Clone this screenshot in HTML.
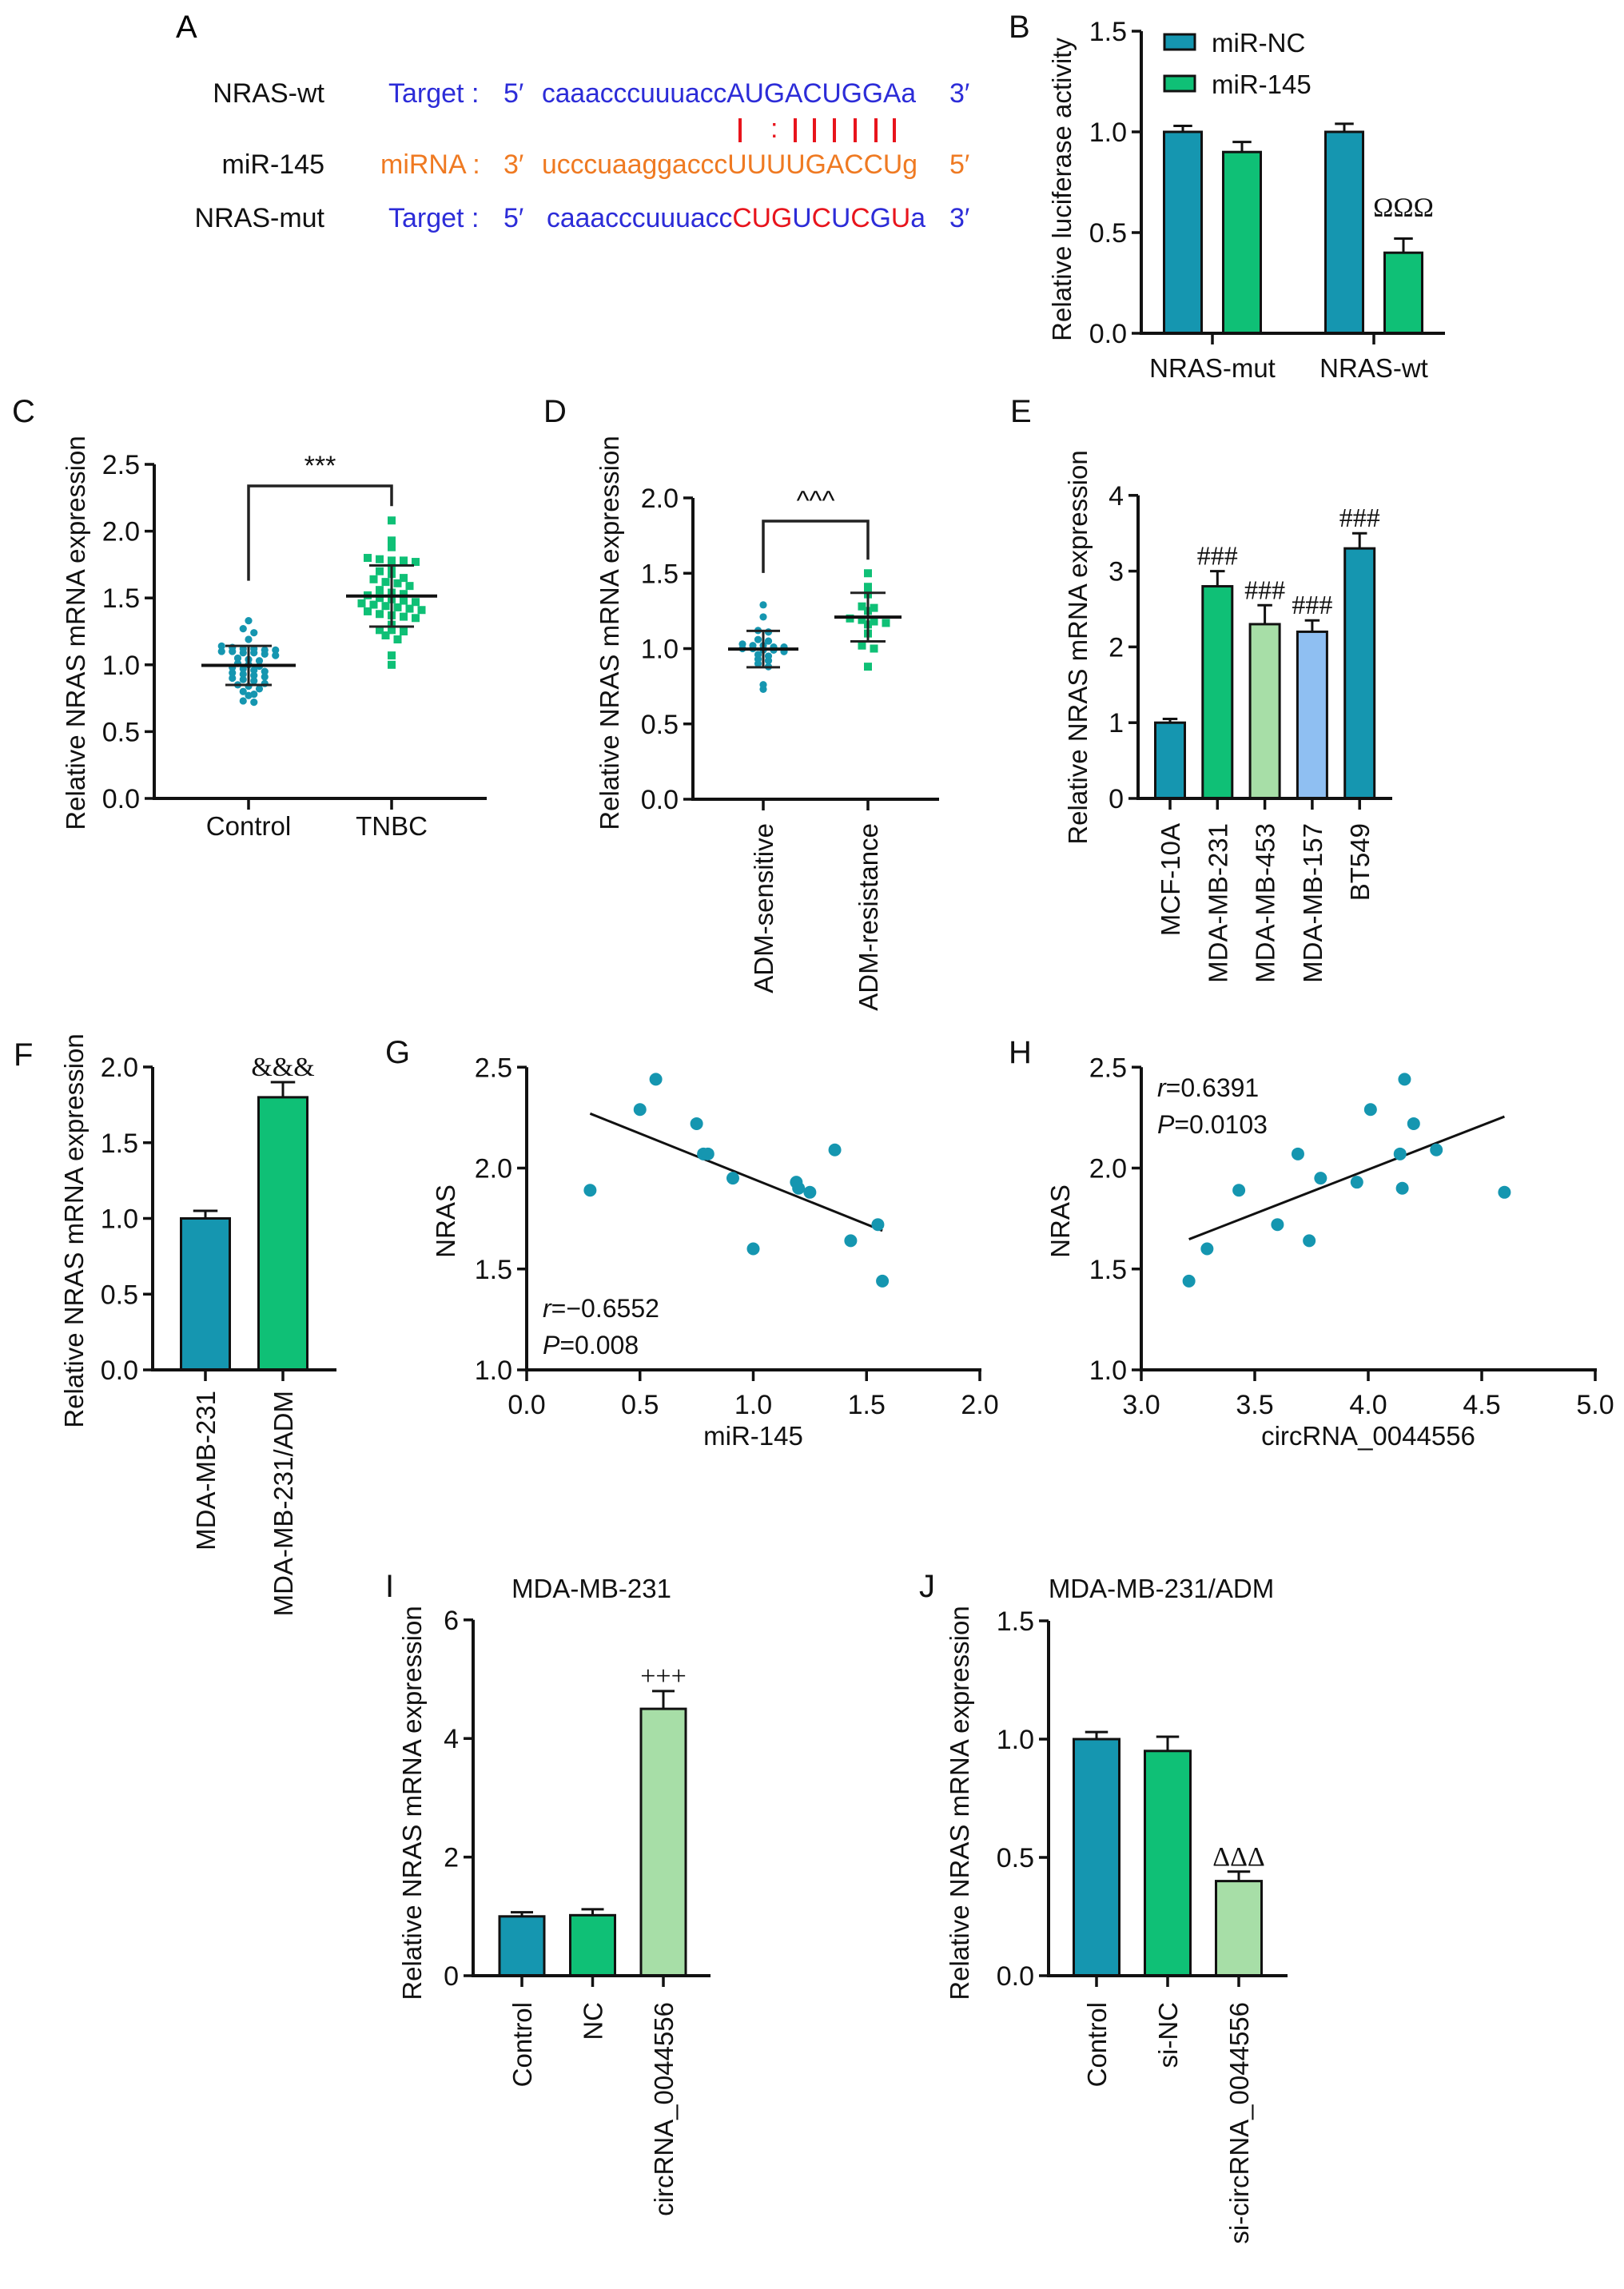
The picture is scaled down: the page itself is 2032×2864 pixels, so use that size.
<!DOCTYPE html>
<html><head><meta charset="utf-8"><title>NRAS figure</title>
<style>
html,body{margin:0;padding:0;background:#fff;}
svg{display:block;font-family:"Liberation Sans",Arial,sans-serif;}
</style></head>
<body>
<svg id="fig" xmlns="http://www.w3.org/2000/svg" width="2032" height="2864" viewBox="0 0 2032 2864">
<rect x="0" y="0" width="2032" height="2864" fill="#fff"/>
<!-- Panel A -->
<g font-size="34">
  <text x="220" y="47" font-size="40">A</text>
  <text x="406" y="128" text-anchor="end" fill="#111">NRAS-wt</text>
  <text x="486" y="128" fill="#2c2cd8">Target :</text>
  <text x="630" y="128" fill="#2c2cd8">5′</text>
  <text x="678" y="128" fill="#2c2cd8" textLength="468" lengthAdjust="spacingAndGlyphs">caaacccuuuaccAUGACUGGAa</text>
  <text x="1188" y="128" fill="#2c2cd8">3′</text>
  <g stroke="#e8141c" stroke-width="4">
    <line x1="926" y1="148" x2="926" y2="178"/>
    <line x1="995" y1="148" x2="995" y2="178"/>
    <line x1="1019" y1="148" x2="1019" y2="178"/>
    <line x1="1044" y1="148" x2="1044" y2="178"/>
    <line x1="1070" y1="148" x2="1070" y2="178"/>
    <line x1="1096" y1="148" x2="1096" y2="178"/>
    <line x1="1119" y1="148" x2="1119" y2="178"/>
  </g>
  <text x="964" y="172" fill="#e8141c">:</text>
  <text x="406" y="217" text-anchor="end" fill="#111">miR-145</text>
  <text x="476" y="217" fill="#ef7a22">miRNA :</text>
  <text x="630" y="217" fill="#ef7a22">3′</text>
  <text x="678" y="217" fill="#ef7a22" textLength="470" lengthAdjust="spacingAndGlyphs">ucccuaaggacccUUUUGACCUg</text>
  <text x="1188" y="217" fill="#ef7a22">5′</text>
  <text x="406" y="284" text-anchor="end" fill="#111">NRAS-mut</text>
  <text x="486" y="284" fill="#2c2cd8">Target :</text>
  <text x="630" y="284" fill="#2c2cd8">5′</text>
  <text x="684" y="284" fill="#2c2cd8" textLength="474" lengthAdjust="spacingAndGlyphs">caaacccuuuacc<tspan fill="#e8141c">CUG</tspan>U<tspan fill="#e8141c">C</tspan>U<tspan fill="#e8141c">C</tspan>G<tspan fill="#e8141c">U</tspan>a</text>
  <text x="1188" y="284" fill="#2c2cd8">3′</text>
</g>
</svg>
<script>
// ---------- DATA ----------
const bCategories = ["NRAS-mut", "NRAS-wt"];
const bSeries = ["miR-NC", "miR-145"];
const bValuesNC = [1.0, 1.0];
const bErrorsNC = [0.03, 0.04];
const bValues145 = [0.9, 0.4];
const bErrors145 = [0.05, 0.07];
const bTicks = [0.0, 0.5, 1.0, 1.5];

const cCategories = ["Control", "TNBC"];
const cControl = [1.33,1.27,1.24,1.19,1.14,1.13,1.12,1.12,1.11,1.11,1.10,1.10,1.09,1.09,1.08,1.07,1.05,1.04,1.03,1.01,1.00,0.99,0.98,0.97,0.96,0.95,0.94,0.93,0.92,0.91,0.90,0.89,0.88,0.86,0.85,0.84,0.82,0.80,0.78,0.77,0.73,0.72];
const cTNBC = [2.08,1.93,1.88,1.80,1.79,1.78,1.78,1.77,1.72,1.70,1.68,1.65,1.64,1.62,1.61,1.59,1.56,1.54,1.53,1.52,1.50,1.49,1.48,1.47,1.46,1.45,1.44,1.43,1.42,1.41,1.40,1.38,1.37,1.36,1.35,1.30,1.26,1.26,1.25,1.22,1.19,1.07,1.00];
const cTicks = [0.0, 0.5, 1.0, 1.5, 2.0, 2.5];

const dCategories = ["ADM-sensitive", "ADM-resistance"];
const dSensitive = [1.29,1.21,1.12,1.11,1.06,1.05,1.03,1.02,1.02,1.01,1.01,1.00,1.00,0.99,0.99,0.98,0.96,0.95,0.93,0.92,0.90,0.88,0.76,0.73];
const dResistance = [1.50,1.41,1.37,1.36,1.28,1.27,1.25,1.20,1.19,1.18,1.17,1.16,1.10,1.02,1.00,0.88];
const dTicks = [0.0, 0.5, 1.0, 1.5, 2.0];

const eCategories = ["MCF-10A", "MDA-MB-231", "MDA-MB-453", "MDA-MB-157", "BT549"];
const eValues = [1.0, 2.8, 2.3, 2.2, 3.3];
const eErrors = [0.05, 0.2, 0.25, 0.15, 0.2];
const eTicks = [0, 1, 2, 3, 4];

const fCategories = ["MDA-MB-231", "MDA-MB-231/ADM"];
const fValues = [1.0, 1.8];
const fErrors = [0.05, 0.1];
const fTicks = [0.0, 0.5, 1.0, 1.5, 2.0];

const gX = [0.28,0.50,0.57,0.75,0.78,0.80,0.91,1.00,1.19,1.20,1.25,1.36,1.43,1.55,1.57];
const gY = [1.89,2.29,2.44,2.22,2.07,2.07,1.95,1.60,1.93,1.90,1.88,2.09,1.64,1.72,1.44];
const gXTicks = [0.0, 0.5, 1.0, 1.5, 2.0];
const gYTicks = [1.0, 1.5, 2.0, 2.5];

const hX = [3.21,3.29,3.43,3.60,3.69,3.74,3.79,3.95,4.01,4.14,4.15,4.16,4.20,4.30,4.60];
const hY = [1.44,1.60,1.89,1.72,2.07,1.64,1.95,1.93,2.29,2.07,1.90,2.44,2.22,2.09,1.88];
const hXTicks = [3.0, 3.5, 4.0, 4.5, 5.0];
const hYTicks = [1.0, 1.5, 2.0, 2.5];

const iCategories = ["Control", "NC", "circRNA_0044556"];
const iValues = [1.0, 1.02, 4.5];
const iErrors = [0.07, 0.1, 0.3];
const iTicks = [0, 2, 4, 6];

const jCategories = ["Control", "si-NC", "si-circRNA_0044556"];
const jValues = [1.0, 0.95, 0.40];
const jErrors = [0.03, 0.06, 0.04];
const jTicks = [0.0, 0.5, 1.0, 1.5];

// ---------- DRAWING ----------
const NS = "http://www.w3.org/2000/svg";
const svg = document.getElementById('fig');
const TEAL = "#1596b0", GREEN = "#0fc076", LGREEN = "#a7dea7", LBLUE = "#8fbff2", INK = "#111";
const TICKF = 34, CATF = 33, TITF = 33;

function mk(tag, attrs, parent) {
  const e = document.createElementNS(NS, tag);
  for (const k in attrs) e.setAttribute(k, attrs[k]);
  (parent || svg).appendChild(e);
  return e;
}
function txt(str, attrs, parent) {
  const t = mk('text', attrs, parent);
  t.textContent = str;
  return t;
}
function fmt(v, d) { return v.toFixed(d); }

function yAxis(g, ax, y0, ppu, ticks, dec, name) {
  const top = y0 - ppu * (ticks[ticks.length - 1] - ticks[0]);
  const l = mk('line', {x1: ax, y1: y0 + 1.5, x2: ax, y2: top, stroke: INK, 'stroke-width': 4}, g);
  
  
  ticks.forEach(t => {
    const y = y0 - ppu * (t - ticks[0]);
    const tk = mk('line', {x1: ax - 12, y1: y, x2: ax, y2: y, stroke: INK, 'stroke-width': 3.5}, g);
    
    
    const lb = txt(fmt(t, dec), {x: ax - 18, y: y + 12, 'text-anchor': 'end', 'font-size': TICKF, fill: INK}, g);
    
    
  });
}
function xAxisLine(g, ax, y0, xEnd, name) {
  const l = mk('line', {x1: ax - 2, y1: y0, x2: xEnd, y2: y0, stroke: INK, 'stroke-width': 4}, g);
  
  
}
function yTitle(g, x, yc, str, name) {
  const t = txt(str, {x: 0, y: 0, 'text-anchor': 'middle', 'font-size': TITF, fill: INK, transform: `translate(${x},${yc}) rotate(-90)`}, g);
  
  
}
function panelLabel(str, x, y) {
  const t = txt(str, {x: x, y: y, 'font-size': 40, fill: INK});
  
  
}
function xTick(g, x, y0, name) {
  const tk = mk('line', {x1: x, y1: y0, x2: x, y2: y0 + 14, stroke: INK, 'stroke-width': 3.5}, g);
  
  
}
function rotCat(g, x, yTop, str, name) {
  const t = txt(str, {x: 0, y: 0, 'text-anchor': 'end', 'font-size': CATF, fill: INK, transform: `translate(${x + 12},${yTop}) rotate(-90)`}, g);
  
  
}
function bar(g, cx, w, y0, ppu, v, err, color, name) {
  const top = y0 - ppu * v;
  const ebTop = top - ppu * err;
  const el = mk('line', {x1: cx, y1: top, x2: cx, y2: ebTop, stroke: INK, 'stroke-width': 3}, g);
  
  
  const cap = mk('line', {x1: cx - w / 4, y1: ebTop, x2: cx + w / 4, y2: ebTop, stroke: INK, 'stroke-width': 3}, g);
  
  
  const r = mk('rect', {x: cx - w / 2, y: top, width: w, height: y0 - top, fill: color, stroke: INK, 'stroke-width': 3}, g);
  
  
  return ebTop;
}
function sigMark(g, cx, y, str, name) {
  const t = txt(str, {x: cx, y: y, 'text-anchor': 'middle', 'font-size': 34, fill: INK, 'font-family': '"Liberation Serif",serif'}, g);
  
  
}
function mean(a) { return a.reduce((s, v) => s + v, 0) / a.length; }
function sd(a) { const m = mean(a); return Math.sqrt(a.reduce((s, v) => s + (v - m) * (v - m), 0) / (a.length - 1)); }

// ---- Panel B ----
{
  const g = mk('g', {});
  
  
  panelLabel('B', 1262, 47);
  const ax = 1428, y0 = 417, ppu = 252;
  const groupX = i => 1517 + i * 202;
  const bw = 47, off = 37;
  bCategories.forEach((c, i) => {
    const cx = groupX(i);
    bar(g, cx - off, bw, y0, ppu, bValuesNC[i], bErrorsNC[i], TEAL, 'bar-mirnc-' + c.toLowerCase());
    const t = bar(g, cx + off, bw, y0, ppu, bValues145[i], bErrors145[i], GREEN, 'bar-mir145-' + c.toLowerCase());
    if (i === 1) sigMark(g, cx + off, t - 28, 'ΩΩΩ', 'significance-omega');
    xTick(g, cx, y0, 'b');
    const lb = txt(c, {x: cx, y: 472, 'text-anchor': 'middle', 'font-size': CATF, fill: INK}, g);
    
    
  });
  xAxisLine(g, ax, y0, 1808, 'b');
  yAxis(g, ax, y0, ppu, bTicks, 1, 'b');
  yTitle(g, 1340, 237, 'Relative luciferase activity', 'b');
  const cols = [TEAL, GREEN];
  bSeries.forEach((s, i) => {
    const sw = mk('rect', {x: 1457, y: 43 + i * 52, width: 38, height: 19, fill: cols[i], stroke: INK, 'stroke-width': 3}, g);
    
    
    const lt = txt(s, {x: 1516, y: 65 + i * 52, 'font-size': 33, fill: INK}, g);
    
    
  });
}

// ---- dot plots (C, D) ----
function beeswarm(g, vals, cx, y0, ppu, shape, color, sz, spacing, rowH, name) {
  const rows = {};
  vals.forEach(v => { const k = Math.round(v * ppu / rowH); (rows[k] = rows[k] || []).push(v); });
  Object.keys(rows).forEach(k => {
    const r = rows[k];
    r.forEach((v, j) => {
      const x = cx + (j - (r.length - 1) / 2) * spacing;
      const y = y0 - ppu * v;
      let p;
      if (shape === 'circle') p = mk('circle', {cx: x, cy: y, r: sz, fill: color}, g);
      else p = mk('rect', {x: x - sz, y: y - sz, width: 2 * sz, height: 2 * sz, fill: color}, g);
      
      
    });
  });
}
function meanSD(g, vals, cx, y0, ppu, halfMean, halfCap, name) {
  const m = mean(vals), s = sd(vals);
  const ym = y0 - ppu * m, yh = y0 - ppu * (m + s), yl = y0 - ppu * (m - s);
  const a = mk('line', {x1: cx, y1: yh, x2: cx, y2: yl, stroke: '#222', 'stroke-width': 3}, g);
  
  
  [yh, yl].forEach(y => {
    const c = mk('line', {x1: cx - halfCap, y1: y, x2: cx + halfCap, y2: y, stroke: '#222', 'stroke-width': 3}, g);
    
    
  });
  const ml = mk('line', {x1: cx - halfMean, y1: ym, x2: cx + halfMean, y2: ym, stroke: '#111', 'stroke-width': 4}, g);
  
  
}
function bracket(g, x1, x2, yTop, yL, yR, str, name) {
  const p = mk('path', {d: `M${x1},${yL} V${yTop} H${x2} V${yR}`, fill: 'none', stroke: '#222', 'stroke-width': 3.5}, g);
  
  
  const t = txt(str, {x: (x1 + x2) / 2, y: yTop - 14, 'text-anchor': 'middle', 'font-size': 34, fill: INK}, g);
  
  
}
{
  const g = mk('g', {});
  
  
  panelLabel('C', 15, 528);
  const ax = 193, y0 = 999, ppu = 167.2;
  const cxs = [311, 490];
  beeswarm(g, cControl, cxs[0], y0, ppu, 'circle', TEAL, 4.6, 13.5, 7, 'c-control');
  beeswarm(g, cTNBC, cxs[1], y0, ppu, 'rect', GREEN, 5, 15, 10, 'c-tnbc');
  meanSD(g, cControl, cxs[0], y0, ppu, 59, 29, 'c-control');
  meanSD(g, cTNBC, cxs[1], y0, ppu, 57, 28, 'c-tnbc');
  const top = y0 - ppu * Math.max(...cTNBC);
  bracket(g, cxs[0], cxs[1], 608, y0 - ppu * Math.max(...cControl) - 50, top - 18, '***', 'c');
  xAxisLine(g, ax, y0, 609, 'c');
  yAxis(g, ax, y0, ppu, cTicks, 1, 'c');
  cCategories.forEach((c, i) => {
    xTick(g, cxs[i], y0, 'c');
    const lb = txt(c, {x: cxs[i], y: 1045, 'text-anchor': 'middle', 'font-size': CATF, fill: INK}, g);
    
    
  });
  yTitle(g, 106, 792, 'Relative NRAS mRNA expression', 'c');
}
{
  const g = mk('g', {});
  
  
  panelLabel('D', 680, 528);
  const ax = 867, y0 = 1000, ppu = 188.5;
  const cxs = [955, 1086];
  beeswarm(g, dSensitive, cxs[0], y0, ppu, 'circle', TEAL, 4.6, 13, 6, 'd-sensitive');
  beeswarm(g, dResistance, cxs[1], y0, ppu, 'rect', GREEN, 5, 15, 9, 'd-resistance');
  meanSD(g, dSensitive, cxs[0], y0, ppu, 44, 21, 'd-sensitive');
  meanSD(g, dResistance, cxs[1], y0, ppu, 42, 22, 'd-resistance');
  bracket(g, cxs[0], cxs[1], 652, y0 - ppu * Math.max(...dSensitive) - 40, y0 - ppu * Math.max(...dResistance) - 17, '^^^', 'd');
  xAxisLine(g, ax, y0, 1175, 'd');
  yAxis(g, ax, y0, ppu, dTicks, 1, 'd');
  dCategories.forEach((c, i) => {
    xTick(g, cxs[i], y0, 'd');
    rotCat(g, cxs[i], 1030, c, 'd');
  });
  yTitle(g, 774, 792, 'Relative NRAS mRNA expression', 'd');
}

// ---- simple bar charts (E, F, I, J) ----
function barChart(o) {
  const g = mk('g', {});
  
  
  o.cats.forEach((c, i) => {
    const cx = o.x0 + i * o.step;
    const t = bar(g, cx, o.bw, o.y0, o.ppu, o.vals[i], o.errs[i], o.colors[i], 'bar-' + c.toLowerCase().replace(/[^a-z0-9]+/g, '-'));
    if (o.sig && o.sig[i]) sigMark(g, cx, t - 8, o.sig[i], 'significance-' + o.name + '-' + i);
    xTick(g, cx, o.y0, o.name);
    rotCat(g, cx, o.catTop, c, o.name);
  });
  xAxisLine(g, o.ax, o.y0, o.xEnd, o.name);
  yAxis(g, o.ax, o.y0, o.ppu, o.ticks, o.dec, o.name);
  yTitle(g, o.titleX, o.titleY, 'Relative NRAS mRNA expression', o.name);
  return g;
}
panelLabel('E', 1264, 528);
barChart({name: 'panel-e-cell-lines', cats: eCategories, vals: eValues, errs: eErrors, colors: [TEAL, GREEN, LGREEN, LBLUE, TEAL],
  sig: ['', '###', '###', '###', '###'], x0: 1464, step: 59.3, bw: 37, y0: 999, ppu: 94.8, ax: 1424, xEnd: 1742,
  ticks: eTicks, dec: 0, catTop: 1030, titleX: 1360, titleY: 810});

panelLabel('F', 17, 1333);
barChart({name: 'panel-f-adm', cats: fCategories, vals: fValues, errs: fErrors, colors: [TEAL, GREEN],
  sig: ['', '&&&'], x0: 257, step: 97, bw: 61, y0: 1714, ppu: 189.5, ax: 191, xEnd: 421,
  ticks: fTicks, dec: 1, catTop: 1740, titleX: 104, titleY: 1540});

panelLabel('I', 482, 1998);
{
  const t = txt('MDA-MB-231', {x: 740, y: 1999, 'text-anchor': 'middle', 'font-size': 33, fill: INK});
  
  
}
barChart({name: 'panel-i-overexpression', cats: iCategories, vals: iValues, errs: iErrors, colors: [TEAL, GREEN, LGREEN],
  sig: ['', '', '+++'], x0: 653, step: 88.5, bw: 56, y0: 2472, ppu: 74.2, ax: 592, xEnd: 889,
  ticks: iTicks, dec: 0, catTop: 2505, titleX: 527, titleY: 2256});

panelLabel('J', 1150, 1998);
{
  const t = txt('MDA-MB-231/ADM', {x: 1453, y: 1999, 'text-anchor': 'middle', 'font-size': 33, fill: INK});
  
  
}
barChart({name: 'panel-j-knockdown', cats: jCategories, vals: jValues, errs: jErrors, colors: [TEAL, GREEN, LGREEN],
  sig: ['', '', 'ΔΔΔ'], x0: 1372, step: 89, bw: 57, y0: 2472, ppu: 296, ax: 1312, xEnd: 1611,
  ticks: jTicks, dec: 1, catTop: 2505, titleX: 1212, titleY: 2256});

// ---- scatter plots (G, H) ----
function scatter(o) {
  const g = mk('g', {});
  
  
  const sx = v => o.ax + (v - o.xt[0]) * o.pxX;
  const sy = v => o.y0 - (v - o.yt[0]) * o.ppu;
  const mx = mean(o.xs), my = mean(o.ys);
  let num = 0, den = 0;
  o.xs.forEach((x, i) => { num += (x - mx) * (o.ys[i] - my); den += (x - mx) * (x - mx); });
  const slope = num / den, icpt = my - slope * mx;
  const xmin = Math.min(...o.xs), xmax = Math.max(...o.xs);
  const ln = mk('line', {x1: sx(xmin), y1: sy(icpt + slope * xmin), x2: sx(xmax), y2: sy(icpt + slope * xmax), stroke: INK, 'stroke-width': 3}, g);
  
  
  o.xs.forEach((x, i) => {
    const c = mk('circle', {cx: sx(x), cy: sy(o.ys[i]), r: 8, fill: TEAL}, g);
    
    
  });
  xAxisLine(g, o.ax, o.y0, sx(o.xt[o.xt.length - 1]) + 2, o.name);
  yAxis(g, o.ax, o.y0, o.ppu, o.yt, 1, o.name);
  o.xt.forEach(t => {
    xTick(g, sx(t), o.y0, o.name);
    const lb = txt(fmt(t, 1), {x: sx(t), y: o.y0 + 55, 'text-anchor': 'middle', 'font-size': TICKF, fill: INK}, g);
    
    
  });
  const xt = txt(o.xTitle, {x: sx((o.xt[0] + o.xt[o.xt.length - 1]) / 2), y: 1808, 'text-anchor': 'middle', 'font-size': TITF, fill: INK}, g);
  
  
  yTitle(g, o.ax - 90, 1528, 'NRAS', o.name);
  const r = mk('text', {x: o.statX, y: o.statY, 'font-size': 32, fill: INK}, g);
  
  
  r.innerHTML = '<tspan font-style="italic">r</tspan>=' + o.r;
  const p = mk('text', {x: o.statX, y: o.statY + 46, 'font-size': 32, fill: INK}, g);
  
  
  p.innerHTML = '<tspan font-style="italic">P</tspan>=' + o.p;
}
panelLabel('G', 482, 1330);
scatter({name: 'panel-g-mir145-scatter', xs: gX, ys: gY, xt: gXTicks, yt: gYTicks, ax: 659, y0: 1714, ppu: 252.5, pxX: 283.5,
  xTitle: 'miR-145', r: '−0.6552', p: '0.008', statX: 679, statY: 1648});
panelLabel('H', 1262, 1330);
scatter({name: 'panel-h-circrna-scatter', xs: hX, ys: hY, xt: hXTicks, yt: hYTicks, ax: 1428, y0: 1714, ppu: 252.5, pxX: 284,
  xTitle: 'circRNA_0044556', r: '0.6391', p: '0.0103', statX: 1448, statY: 1372});
</script>
</body></html>
